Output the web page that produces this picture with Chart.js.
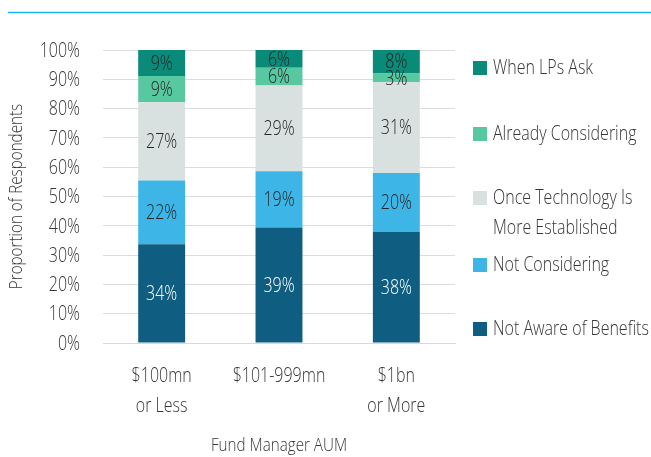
<!DOCTYPE html>
<html>
<head>
<meta charset="utf-8">
<script src="https://cdn.jsdelivr.net/npm/chart.js@4/dist/chart.umd.min.js"></script>
<style>
  html, body { margin: 0; padding: 0; background: #fff; }
  #wrap { width: 651px; height: 457px; position: relative; }
</style>
</head>
<body>
<div id="wrap"><canvas id="chart" width="651" height="457"></canvas></div>
<script>
// categories and series (percent of respondents, as printed)
const categories = [['$100mn', 'or Less'], ['$101-999mn'], ['$1bn', 'or More']];
const notAware = [34, 39, 38];
const notConsidering = [22, 19, 20];
const onceTech = [27, 29, 31];
const alreadyConsidering = [9, 6, 3];
const whenLPsAsk = [9, 6, 8];
const yTicks = [0, 10, 20, 30, 40, 50, 60, 70, 80, 90, 100];

const FONT = '"Open Sans", "Noto Sans", sans-serif';
const TEXT = '#363636';
const SQUEEZE = 0.8; // 細めのフォントに見せるため横方向に縮める

// series in stack order, bottom first
const series = [
    { label: ['Not Aware of Benefits'], data: notAware, color: '#0f5e82', text: '#ffffff' },
    { label: ['Not Considering'], data: notConsidering, color: '#3db5e6', text: '#262626' },
    { label: ['Once Technology Is', 'More Established'], data: onceTech, color: '#d9e1e0', text: '#262626' },
    { label: ['Already Considering'], data: alreadyConsidering, color: '#57c8a0', text: '#262626' },
    { label: ['When LPs Ask'], data: whenLPsAsk, color: '#0a8a78', text: '#262626' }
];

// 100% stacked: each column scaled by its own total
const totals = categories.map((_, j) => series.reduce((a, s) => a + s.data[j], 0));

function text(ctx, str, x, y, align, size, color, rot) {
    ctx.save();
    ctx.translate(x, y);
    if (rot) ctx.rotate(rot);
    ctx.scale(SQUEEZE, 1);
    ctx.font = '300 ' + size + 'px ' + FONT;
    ctx.fillStyle = color;
    ctx.textAlign = align;
    ctx.textBaseline = 'middle';
    ctx.fillText(str, 0, 0);
    ctx.restore();
}

// 値ラベル、軸の文字、右の凡例、上の線
const extras = {
    id: 'extras',
    afterDatasetsDraw(chart) {
        const ctx = chart.ctx;
        chart.data.datasets.forEach((ds, i) => {
            chart.getDatasetMeta(i).data.forEach((bar, j) => {
                const mid = (bar.y + bar.base) / 2;
                text(ctx, series[i].data[j] + '%', bar.x, mid + 1, 'center', 20, series[i].text);
            });
        });
    },
    afterDraw(chart) {
        const ctx = chart.ctx;
        const xs = chart.scales.x, ys = chart.scales.y;

        // y tick labels
        yTicks.forEach(v => text(ctx, v + '%', 80, ys.getPixelForValue(v) + 1, 'right', 20, TEXT));
        // y title
        text(ctx, 'Proportion of Respondents', 17, (ys.top + ys.bottom) / 2, 'center', 19, TEXT, -Math.PI / 2);
        // x tick labels
        categories.forEach((lines, j) => {
            const x = xs.getPixelForValue(j);
            lines.forEach((t, n) => text(ctx, t, x, 376 + n * 30, 'center', 20, TEXT));
        });
        // x title
        text(ctx, 'Fund Manager AUM', (xs.left + xs.right) / 2, 446, 'center', 19, TEXT);

        // cyan rule at the top
        ctx.save();
        ctx.strokeStyle = '#1bb8e6';
        ctx.lineWidth = 1.5;
        ctx.beginPath();
        ctx.moveTo(8, 12.5);
        ctx.lineTo(651, 12.5);
        ctx.stroke();
        ctx.restore();

        // legend, top entry first
        const rows = [68, 134, 198, 265, 329];
        for (let k = 0; k < series.length; k++) {
            const s = series[series.length - 1 - k];
            const y = rows[k];
            ctx.fillStyle = s.color;
            ctx.fillRect(473, y - 7, 14, 14);
            s.label.forEach((t, n) => text(ctx, t, 493, y + n * 30, 'left', 20, TEXT));
        }
    }
};

new Chart(document.getElementById('chart'), {
    type: 'bar',
    data: {
        labels: categories,
        datasets: series.map(s => ({
            label: s.label.join(' '),
            data: s.data.map((v, j) => v / totals[j] * 100),
            backgroundColor: s.color,
            borderWidth: 0,
            barPercentage: 0.4,
            categoryPercentage: 1
        }))
    },
    options: {
        responsive: false,
        animation: false,
        layout: { padding: { top: 50, right: 196, bottom: 0, left: 0 } },
        plugins: { legend: { display: false }, tooltip: { enabled: false } },
        scales: {
            x: {
                stacked: true,
                grid: { display: false },
                border: { color: '#d9d9d9' },
                ticks: { display: false },
                afterFit(scale) { scale.height = 114; }
            },
            y: {
                stacked: true,
                min: 0,
                max: 100,
                afterBuildTicks(scale) { scale.ticks = yTicks.map(v => ({ value: v })); },
                grid: { color: '#dcdcdc', drawTicks: false },
                border: { display: false },
                ticks: { display: false },
                afterFit(scale) { scale.width = 103; }
            }
        }
    },
    plugins: [extras]
});
</script>
</body>
</html>
